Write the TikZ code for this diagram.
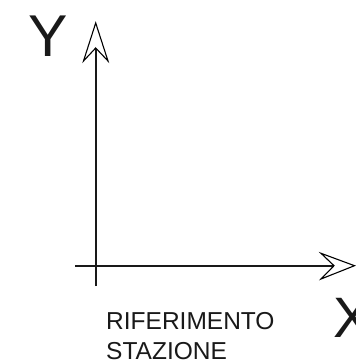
\documentclass[tikz,border=0pt]{standalone}
\usepackage{fontspec}
\setmainfont{Liberation Sans}
\begin{document}
\begin{tikzpicture}[x=1pt,y=-1pt,
  axis/.style={line width=1.6pt,black!90},
  head/.style={line width=1.1pt,black,line join=miter,fill=white},
  lbl/.style={inner sep=0pt,anchor=base west,text=black!90}]
\useasboundingbox (0,0) rectangle (355,363);
% coordinates
\coordinate (ystart) at (95.7,286);
\coordinate (ynotch) at (95.7,48);
\coordinate (xstart) at (75,265.7);
\coordinate (xnotch) at (334,265.7);
% axes
\draw[axis] (ystart) -- (ynotch);
\draw[axis] (xstart) -- (xnotch);
% arrow heads
\draw[head] (95.7,23) -- (83.5,61) -- (ynotch) -- (108,61) -- cycle;
\draw[head] (354.5,265.7) -- (321,253.3) -- (xnotch) -- (321,279) -- cycle;
% labels
\node[lbl,font=\fontsize{59}{59}\selectfont] (ylab) at (28.5,56.7) {Y};
\node[lbl,font=\fontsize{57}{57}\selectfont] (xlab) at (333,337) {X};
\node[lbl,font=\fontsize{24.5}{30}\selectfont] (ref1) at (106,329.3) {RIFERIMENTO};
\node[lbl,font=\fontsize{24.5}{30}\selectfont] (ref2) at (106,359.3) {STAZIONE};
\end{tikzpicture}
\end{document}
